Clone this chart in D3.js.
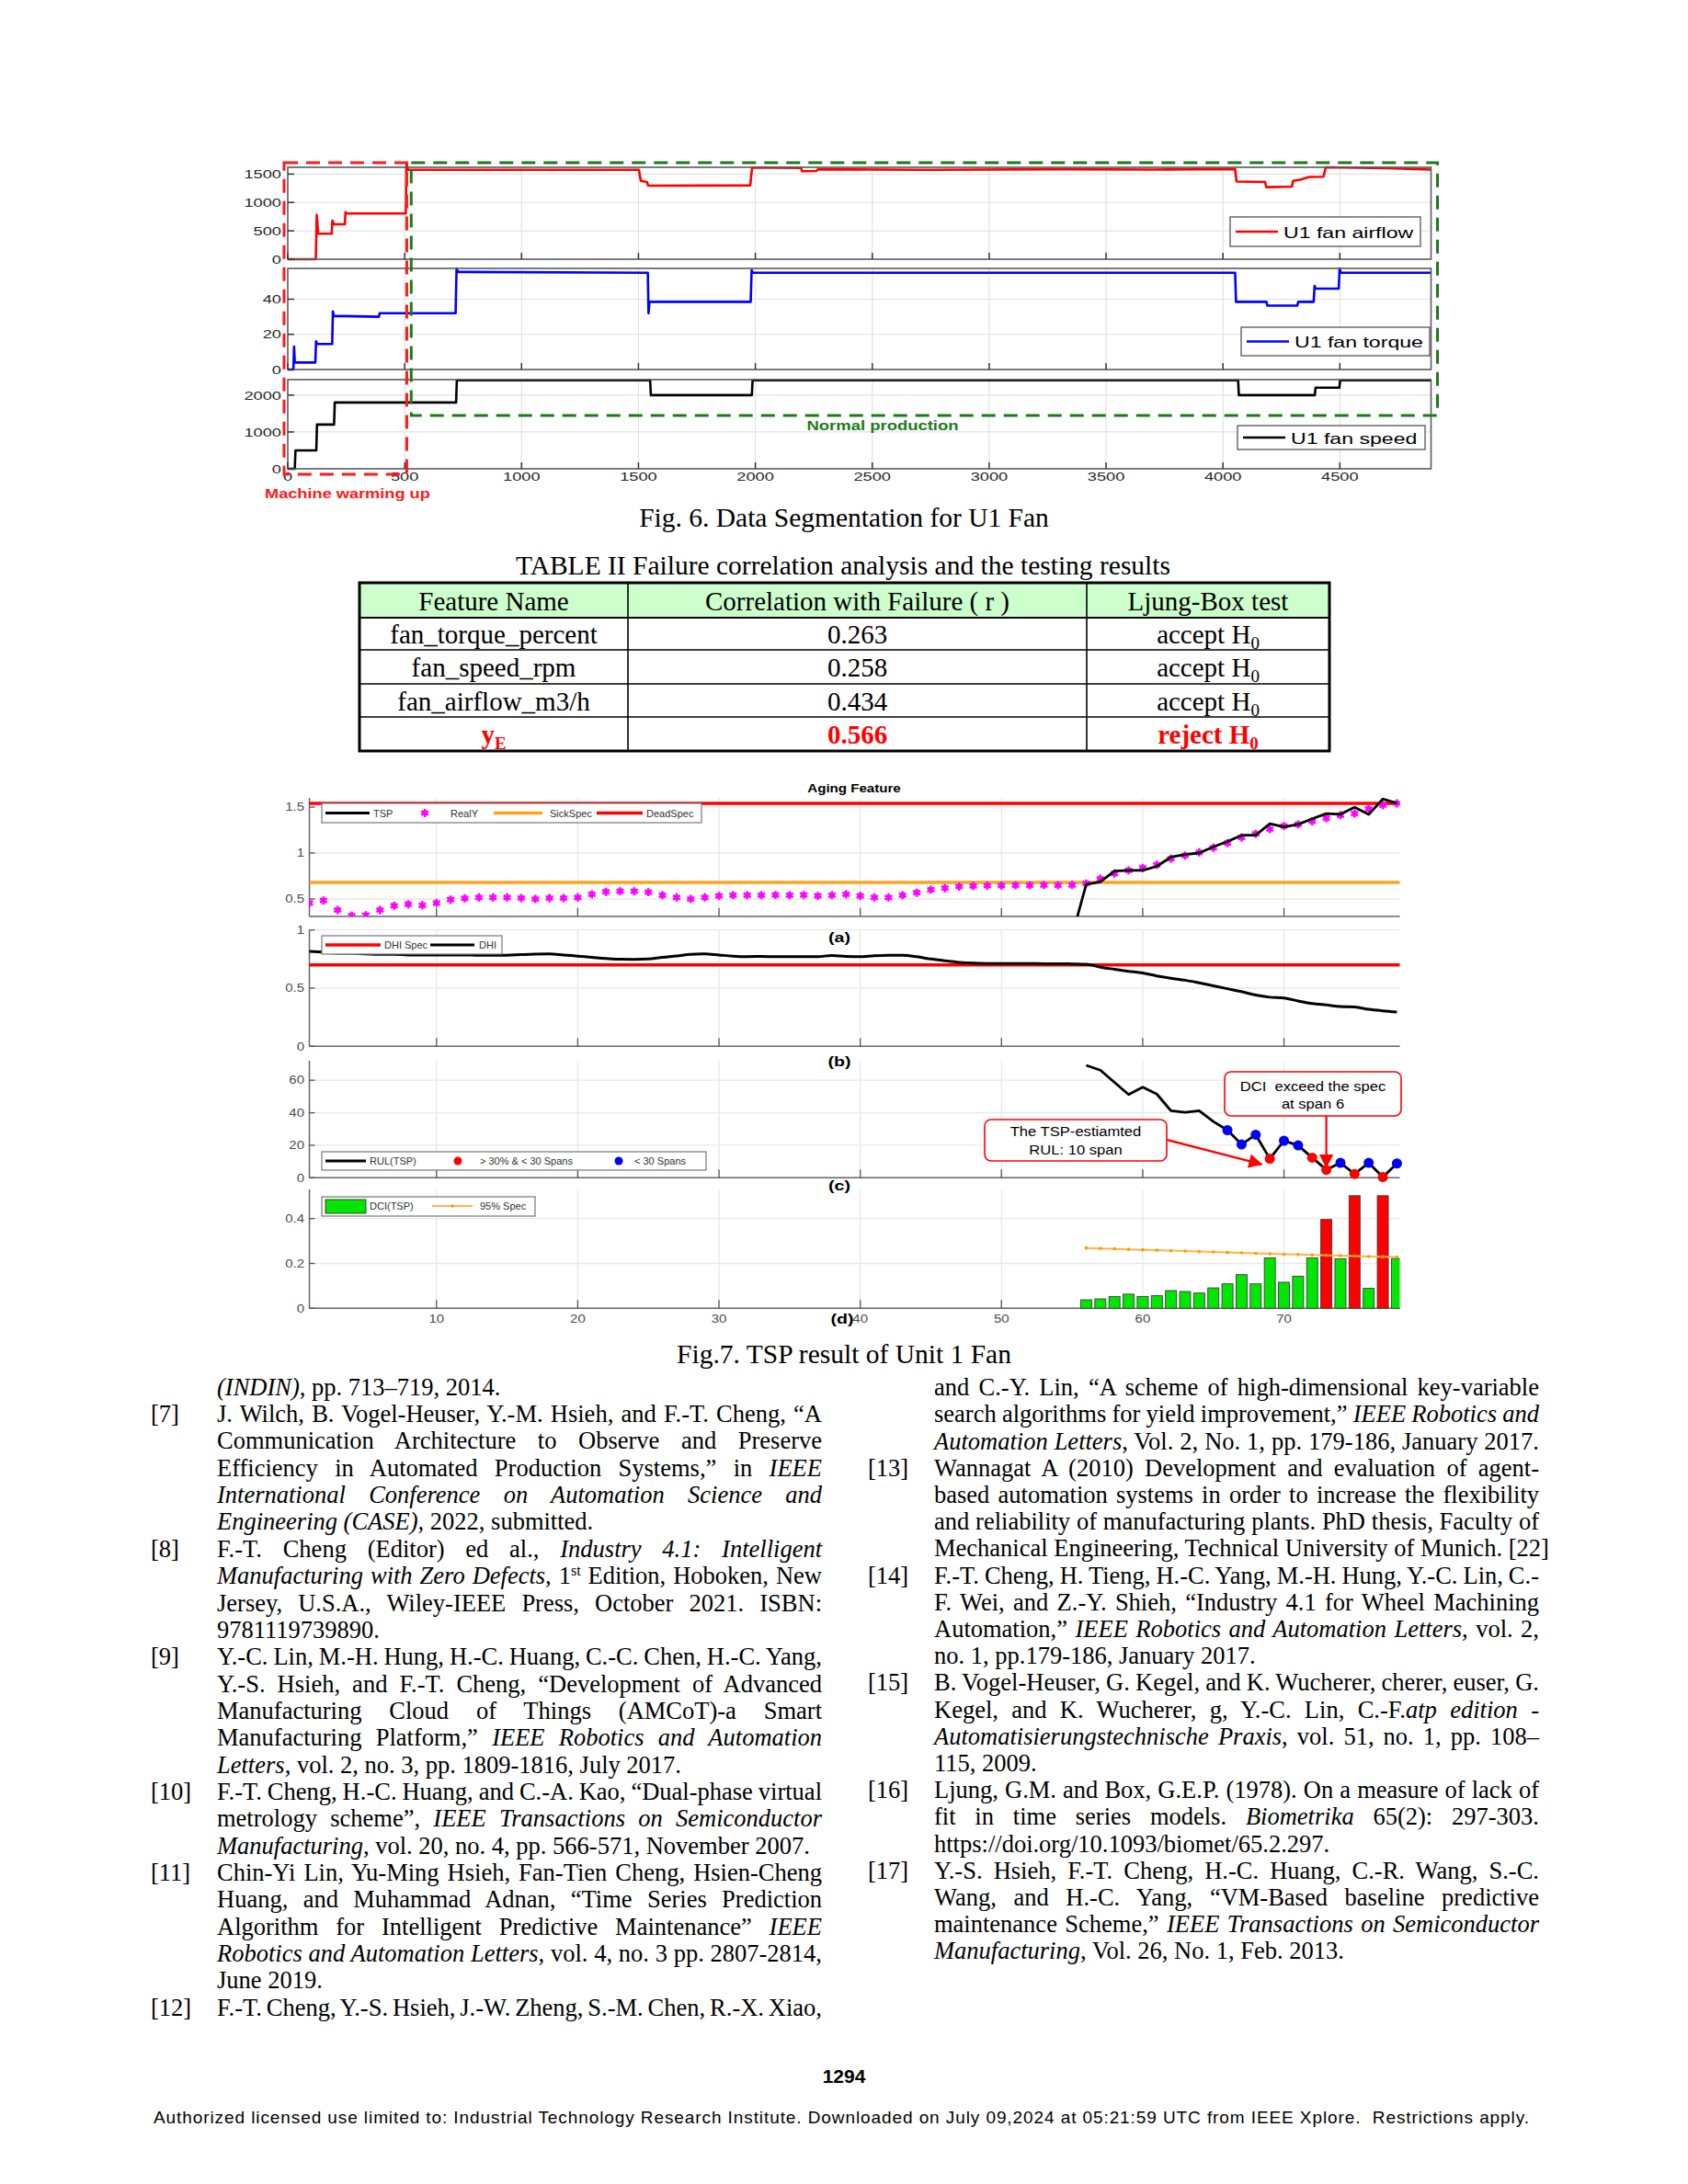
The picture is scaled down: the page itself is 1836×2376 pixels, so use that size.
<!DOCTYPE html>
<html><head><meta charset="utf-8">
<script src="https://cdn.jsdelivr.net/npm/d3@7"></script>
<style>
body{margin:0;background:#fff;width:1836px;height:2376px;position:relative;overflow:hidden}
#svg{position:absolute;left:0;top:0}
.ln{position:absolute;font-family:"Liberation Serif","Times New Roman",serif;font-size:26.5px;line-height:29.3px;white-space:nowrap;color:#000}
.ln sup{font-size:16px;line-height:0;vertical-align:9px}
</style></head><body>
<svg id="svg" width="1836" height="2376"></svg>
<script>
// ================= DATA =================
// Fig. 6 (step-like sensor series, breakpoints)
const fig6XTicks=[0,500,1000,1500,2000,2500,3000,3500,4000,4500];
const airflowTicks=[0,500,1000,1500];
const torqueTicks=[0,20,40];
const speedTicks=[0,1000,2000];
const airflowX=[0,120,124,130,188,191,197,244,247,253,505,508,514,1502,1510,1536,1542,1978,1986,2195,2200,2262,2268,2700,3300,3700,4052,4058,4180,4186,4295,4300,4330,4370,4430,4440,4700,4890];
const airflowY=[0,0,780,450,450,680,615,615,830,805,805,1680,1575,1575,1380,1360,1295,1300,1615,1610,1550,1555,1585,1575,1585,1580,1590,1370,1360,1270,1280,1380,1400,1450,1455,1620,1605,1580];
const torqueX=[0,24,27,30,118,121,126,190,193,197,390,393,718,722,728,1540,1543,1547,1980,1984,1990,4052,4056,4186,4190,4318,4322,4388,4392,4396,4495,4499,4504,4890];
const torqueY=[0,0,13,4,4,16,14.5,14.5,33,30.5,30,32,32,57.5,55.5,55,32,38.5,38.5,56.5,55,55,38.5,38.5,36.3,36.3,38.5,38.5,47.5,46,46,57.5,55,55];
const speedX=[0,30,33,122,125,198,201,720,723,1550,1553,1985,1988,4065,4068,4393,4396,4498,4501,4890];
const speedY=[0,0,500,500,1200,1200,1800,1800,2400,2400,2000,2000,2400,2400,2000,2000,2200,2200,2400,2400];

// Table II
const tableHeaders=['Feature Name','Correlation with Failure ( r )','Ljung-Box test'];
const featureNames=['fan_torque_percent','fan_speed_rpm','fan_airflow_m3/h'];
const correlations=['0.263','0.258','0.434'];
const ljungResults=['accept','accept','accept'];
const yECorrelation='0.566';
const yEResult='reject';

// Fig. 7 (spans 1..78)
const fig7XTicks=[10,20,30,40,50,60,70];
const realY=[0.456,0.483,0.38,0.318,0.324,0.38,0.426,0.443,0.432,0.456,
 0.493,0.507,0.517,0.517,0.517,0.51,0.5,0.51,0.51,0.517,
 0.551,0.578,0.584,0.584,0.574,0.541,0.517,0.5,0.517,0.534,
 0.541,0.541,0.541,0.544,0.541,0.544,0.534,0.541,0.551,0.534,
 0.517,0.517,0.541,0.568,0.601,0.618,0.635,0.642,0.645,0.645,
 0.649,0.649,0.652,0.649,0.652,0.669,0.72,0.777,0.811,0.838,
 0.872,0.939,0.973,1.007,1.057,1.108,1.169,1.209,1.26,1.294,
 1.311,1.345,1.378,1.412,1.429,1.48,1.52,1.54];
const tspStart=55;
const tsp=[0.10,0.659,0.686,0.804,0.811,0.811,0.855,0.956,0.983,1.0,1.068,1.125,1.193,1.193,1.318,1.284,1.311,1.372,1.429,1.422,1.497,1.419,1.588,1.541];
const sickSpec=0.68, deadSpec=1.54, dhiSpec=0.7;
const dhi=[0.816,0.81,0.80,0.80,0.795,0.79,0.79,0.785,0.785,0.785,
 0.785,0.785,0.782,0.782,0.782,0.788,0.793,0.795,0.785,0.775,
 0.765,0.755,0.748,0.747,0.75,0.765,0.776,0.79,0.795,0.785,
 0.775,0.771,0.772,0.77,0.77,0.77,0.771,0.78,0.772,0.77,
 0.778,0.782,0.782,0.77,0.75,0.735,0.722,0.715,0.712,0.711,
 0.711,0.711,0.71,0.71,0.708,0.705,0.68,0.662,0.645,0.63,
 0.605,0.585,0.568,0.545,0.52,0.495,0.47,0.44,0.422,0.415,
 0.39,0.368,0.355,0.342,0.338,0.318,0.305,0.295];
const rulStart=56;
const rul=[69.2,66.2,58.7,51.2,55.7,51.5,41.2,40.2,41.2,34.6,29.3,20.5,26.5,11.7,22.8,19.9,12.4,4.9,9.2,2.3,9.2,0.4,8.8];
const rulClass=[null,null,null,null,null,null,null,null,null,null,'b','b','b','r','b','b','r','r','b','r','b','r','b'];
const dciStart=1;
const dci=[0,0,0,0,0,0,0,0,0,0,0,0,0,0,0,0,0,0,0,0,0,0,0,0,0,0,0,0,0,0,
 0,0,0,0,0,0,0,0,0,0,0,0,0,0,0,0,0,0,0,0,0,0,0,0,0,
 0.038,0.042,0.052,0.063,0.053,0.056,0.079,0.075,0.068,0.091,0.109,0.150,0.109,0.225,0.116,0.143,0.225,0.396,0.221,0.502,0.089,0.502,0.222];
const specStart=56;
const spec95=[0.269,0.267,0.265,0.263,0.261,0.259,0.257,0.255,0.253,0.251,0.249,0.247,0.245,0.243,0.241,0.240,0.238,0.236,0.235,0.233,0.231,0.230,0.229];
const y7aTicks=[0.5,1,1.5], y7bTicks=[0,0.5,1], y7cTicks=[0,20,40,60], y7dTicks=[0,0.2,0.4];

// ================= HELPERS =================
const SANS='"Liberation Sans", Arial, Helvetica, sans-serif';
const SERIF='"Liberation Serif","Times New Roman",serif';
const svg=d3.select('#svg');
const defs=svg.append('defs');
let clipN=0;
function clip(x,y,w,h){const id='c'+(clipN++);defs.append('clipPath').attr('id',id).append('rect').attr('x',x).attr('y',y).attr('width',w).attr('height',h);return 'url(#'+id+')';}
function stext(g,x,y,str,o={}){
  const t=g.append('text').attr('transform',`translate(${x},${y}) scale(${o.sx||1},1)`)
   .attr('text-anchor',o.anchor||'start').attr('dy',o.dy==null?'0.35em':o.dy)
   .style('font-family',o.family||SANS).style('font-size',(o.size||12)+'px')
   .style('font-weight',o.weight||'normal').attr('fill',o.fill||'#000').text(str);
  if(o.pre) t.style('white-space','pre');
  return t;
}

// ================= FIG. 6 =================
const x6=d3.scaleLinear().domain([0,4890]).range([313,1556.5]);
const fig6Panels=[
 {xs:airflowX,ys:airflowY,color:'#ff0000',y:d3.scaleLinear().domain([0,1620]).range([282,182]),ticks:airflowTicks,name:'U1 fan airflow',leg:[1338,236,207,32]},
 {xs:torqueX,ys:torqueY,color:'#0000ff',y:d3.scaleLinear().domain([0,57.5]).range([402,292]),ticks:torqueTicks,name:'U1 fan torque',leg:[1350,356,205,31]},
 {xs:speedX,ys:speedY,color:'#000000',y:d3.scaleLinear().domain([0,2420]).range([510,413]),ticks:speedTicks,name:'U1 fan speed',leg:[1346,463,204,26]}
];
const g6=svg.append('g');
fig6Panels.forEach((p,i)=>{
  const [yb,yt]=p.y.range(); const [xl,xr]=x6.range();
  const g=g6.append('g');
  g.selectAll(null).data(fig6XTicks.slice(1)).join('line').attr('x1',d=>x6(d)).attr('x2',d=>x6(d)).attr('y1',yt).attr('y2',yb).attr('stroke','#e2e2e2').attr('stroke-width',1.2);
  g.selectAll(null).data(p.ticks.slice(1)).join('line').attr('x1',xl).attr('x2',xr).attr('y1',d=>p.y(d)).attr('y2',d=>p.y(d)).attr('stroke','#e2e2e2').attr('stroke-width',1.2);
  const pts=p.xs.map((v,k)=>[v,p.ys[k]]);
  g.append('path').datum(pts).attr('clip-path',clip(xl,yt-4,xr-xl,yb-yt+6))
   .attr('d',d3.line().x(d=>x6(d[0])).y(d=>p.y(d[1]))).attr('fill','none').attr('stroke',p.color).attr('stroke-width',2.6).attr('stroke-linejoin','round');
  g.append('rect').attr('x',xl).attr('y',yt).attr('width',xr-xl).attr('height',yb-yt).attr('fill','none').attr('stroke','#5a5a5a').attr('stroke-width',1.6);
  g.selectAll(null).data(p.ticks).join('line').attr('x1',xl).attr('x2',xl+7).attr('y1',d=>p.y(d)).attr('y2',d=>p.y(d)).attr('stroke','#333').attr('stroke-width',1.5);
  g.selectAll(null).data(fig6XTicks).join('line').attr('x1',d=>x6(d)).attr('x2',d=>x6(d)).attr('y1',yb).attr('y2',yb-7).attr('stroke','#333').attr('stroke-width',1.5);
  p.ticks.forEach(t=>stext(g,306,p.y(t),String(t),{anchor:'end',size:13.5,sx:1.35,fill:'#262626'}));
  // legend
  const [lx,ly,lw,lh]=p.leg;
  g.append('rect').attr('x',lx).attr('y',ly).attr('width',lw).attr('height',lh).attr('fill','#fff').attr('stroke','#555').attr('stroke-width',1.3);
  g.append('line').attr('x1',lx+6).attr('x2',lx+52).attr('y1',ly+lh/2).attr('y2',ly+lh/2).attr('stroke',p.color).attr('stroke-width',2.6);
  stext(g,lx+58,ly+lh/2+1,p.name,{size:16.5,sx:1.4,fill:'#000'});
});
fig6XTicks.forEach(t=>stext(g6,x6(t),518,String(t),{anchor:'middle',size:13.5,sx:1.35,fill:'#262626'}));
// segmentation boxes
g6.append('rect').attr('x',x6(0)-4).attr('y',177).attr('width',x6(509)-x6(0)+4).attr('height',339).attr('fill','none').attr('stroke','#ff1a1a').attr('stroke-width',3).attr('stroke-dasharray','15 9');
g6.append('rect').attr('x',x6(528)).attr('y',177).attr('width',x6.range()[1]+7-x6(528)).attr('height',275).attr('fill','none').attr('stroke','#1c7a1c').attr('stroke-width',3).attr('stroke-dasharray','15 9');
stext(g6,288,537,'Machine warming up',{size:14,sx:1.3,weight:'bold',fill:'#ff1a1a'});
stext(g6,960,463,'Normal production',{size:14,sx:1.32,weight:'bold',fill:'#1c7a1c',anchor:'middle'});
svg.append('text').attr('x',918).attr('y',573).attr('text-anchor','middle').style('font-family',SERIF).style('font-size','29.5px').text('Fig. 6. Data Segmentation for U1 Fan');

// ================= TABLE II =================
svg.append('text').attr('x',917).attr('y',625).attr('text-anchor','middle').style('font-family',SERIF).style('font-size','29.5px').text('TABLE II Failure correlation analysis and the testing results');
const colE=[391,683,1182,1446], rowE=[634,672,707,744,780,817];
const gt=svg.append('g').style('font-family',SERIF).style('font-size','29px');
gt.append('rect').attr('x',colE[0]).attr('y',rowE[0]).attr('width',colE[3]-colE[0]).attr('height',rowE[1]-rowE[0]).attr('fill','#ccffcc');
rowE.slice(1,-1).forEach(r=>gt.append('line').attr('x1',colE[0]).attr('x2',colE[3]).attr('y1',r).attr('y2',r).attr('stroke','#000').attr('stroke-width',r===rowE[1]?2.2:1.6));
colE.slice(1,-1).forEach(c=>gt.append('line').attr('x1',c).attr('x2',c).attr('y1',rowE[0]).attr('y2',rowE[5]).attr('stroke','#000').attr('stroke-width',1.6));
gt.append('rect').attr('x',colE[0]).attr('y',rowE[0]).attr('width',colE[3]-colE[0]).attr('height',rowE[5]-rowE[0]).attr('fill','none').attr('stroke','#000').attr('stroke-width',3);
const colC=[0,1,2].map(i=>(colE[i]+colE[i+1])/2);
const rowB=[0,1,2,3,4].map(i=>(rowE[i]+rowE[i+1])/2+10.5);
tableHeaders.forEach((h,i)=>gt.append('text').attr('x',colC[i]).attr('y',rowB[0]).attr('text-anchor','middle').style('white-space','pre').text(h));
featureNames.forEach((f,r)=>{
  gt.append('text').attr('x',colC[0]).attr('y',rowB[r+1]).attr('text-anchor','middle').text(f);
  gt.append('text').attr('x',colC[1]).attr('y',rowB[r+1]).attr('text-anchor','middle').text(correlations[r]);
  const t=gt.append('text').attr('x',colC[2]).attr('y',rowB[r+1]).attr('text-anchor','middle').text(ljungResults[r]+' H');
  t.append('tspan').attr('dy',6).style('font-size','19px').text('0');
});
{
  const r=4;
  const t1=gt.append('text').attr('x',colC[0]).attr('y',rowB[r]).attr('text-anchor','middle').attr('fill','#ff0000').style('font-weight','bold').text('y');
  t1.append('tspan').attr('dy',6).style('font-size','19px').text('E');
  gt.append('text').attr('x',colC[1]).attr('y',rowB[r]).attr('text-anchor','middle').attr('fill','#ff0000').style('font-weight','bold').text(yECorrelation);
  const t2=gt.append('text').attr('x',colC[2]).attr('y',rowB[r]).attr('text-anchor','middle').attr('fill','#ff0000').style('font-weight','bold').text(yEResult+' H');
  t2.append('tspan').attr('dy',6).style('font-size','19px').text('0');
}

// ================= FIG. 7 =================
const x7=d3.scaleLinear().domain([1,78.2]).range([336.5,1522.5]);
const [X0,X1]=x7.range();
const ya=d3.scaleLinear().domain([0.31,1.6]).range([997,868]);
const yb=d3.scaleLinear().domain([0,1]).range([1138.3,1011.7]);
const yc=d3.scaleLinear().domain([0,72]).range([1281.3,1154]);
const yd=d3.scaleLinear().domain([0,0.53]).range([1423.3,1294]);
const fmt=d3.format('~g');
function panel7(y,ticks){
  const g=svg.append('g');
  const [b,t]=y.range();
  g.selectAll(null).data(fig7XTicks).join('line').attr('x1',d=>x7(d)).attr('x2',d=>x7(d)).attr('y1',t).attr('y2',b).attr('stroke','#e8e8e8').attr('stroke-width',1.3);
  g.selectAll(null).data(ticks).join('line').attr('x1',X0).attr('x2',X1).attr('y1',d=>y(d)).attr('y2',d=>y(d)).attr('stroke','#e8e8e8').attr('stroke-width',1.3);
  g.append('line').attr('x1',X0).attr('x2',X0).attr('y1',t).attr('y2',b).attr('stroke','#666').attr('stroke-width',1.5);
  g.append('line').attr('x1',X0).attr('x2',X1).attr('y1',b).attr('y2',b).attr('stroke','#666').attr('stroke-width',1.5);
  g.selectAll(null).data(ticks).join('line').attr('x1',X0).attr('x2',X0+6).attr('y1',d=>y(d)).attr('y2',d=>y(d)).attr('stroke','#555').attr('stroke-width',1.3);
  g.selectAll(null).data(fig7XTicks).join('line').attr('x1',d=>x7(d)).attr('x2',d=>x7(d)).attr('y1',b).attr('y2',b-9).attr('stroke','#555').attr('stroke-width',1.3);
  ticks.forEach(v=>stext(g,331,y(v),fmt(v),{anchor:'end',size:12,sx:1.25,fill:'#4d4d4d'}));
  return g;
}
function legBox(g,x,y,w,h){g.append('rect').attr('x',x).attr('y',y).attr('width',w).attr('height',h).attr('fill','#fff').attr('stroke','#777').attr('stroke-width',1.2);}
const LS={size:10.5,sx:1.05,fill:'#333'};

// ---- panel (a)
const ga=panel7(ya,y7aTicks);
stext(svg,929,858,'Aging Feature',{anchor:'middle',size:12,sx:1.26,weight:'bold'});
const cpa=clip(X0,868,X1-X0,129);
ga.append('line').attr('x1',X0).attr('x2',X1).attr('y1',ya(sickSpec)).attr('y2',ya(sickSpec)).attr('stroke','#ffa31a').attr('stroke-width',3.5);
ga.append('line').attr('x1',X0).attr('x2',X1).attr('y1',ya(deadSpec)).attr('y2',ya(deadSpec)).attr('stroke','#ff0000').attr('stroke-width',3.5);
const ast=d3.symbol().type(d3.symbolAsterisk||d3.symbolCross).size(55);
ga.append('g').attr('clip-path',cpa).selectAll(null).data(realY).join('path').attr('d',ast)
  .attr('transform',(d,i)=>`translate(${x7(i+1)},${ya(d)})`).attr('fill','#ff00ff').attr('stroke','#ff00ff').attr('stroke-width',2.6);
ga.append('path').datum(tsp).attr('clip-path',cpa).attr('d',d3.line().x((d,i)=>x7(i+tspStart)).y(d=>ya(d)))
  .attr('fill','none').attr('stroke','#000').attr('stroke-width',2.8).attr('stroke-linejoin','round');
legBox(ga,350,874,413,21);
ga.append('line').attr('x1',354).attr('x2',402).attr('y1',884.5).attr('y2',884.5).attr('stroke','#000').attr('stroke-width',2.8);
stext(ga,406,885,'TSP',LS);
ga.append('path').attr('d',ast).attr('transform','translate(462,884.5)').attr('fill','#ff00ff').attr('stroke','#ff00ff').attr('stroke-width',2.6);
stext(ga,490,885,'RealY',LS);
ga.append('line').attr('x1',537).attr('x2',590).attr('y1',884.5).attr('y2',884.5).attr('stroke','#ffa31a').attr('stroke-width',3.5);
stext(ga,598,885,'SickSpec',LS);
ga.append('line').attr('x1',649).attr('x2',699).attr('y1',884.5).attr('y2',884.5).attr('stroke','#ff0000').attr('stroke-width',3.5);
stext(ga,703,885,'DeadSpec',LS);

// ---- panel (b)
const gb=panel7(yb,y7bTicks);
stext(svg,913,1020,'(a)',{anchor:'middle',size:14,sx:1.4,weight:'bold'});
gb.append('line').attr('x1',X0).attr('x2',X1).attr('y1',yb(dhiSpec)).attr('y2',yb(dhiSpec)).attr('stroke','#ff0000').attr('stroke-width',3.5);
gb.append('path').datum(dhi).attr('d',d3.line().x((d,i)=>x7(i+1)).y(d=>yb(d)).curve(d3.curveMonotoneX))
  .attr('fill','none').attr('stroke','#000').attr('stroke-width',3).attr('stroke-linejoin','round');
legBox(gb,350,1018,196,20);
gb.append('line').attr('x1',354).attr('x2',414).attr('y1',1028).attr('y2',1028).attr('stroke','#ff0000').attr('stroke-width',3.5);
stext(gb,418,1028.5,'DHI Spec',LS);
gb.append('line').attr('x1',468).attr('x2',516).attr('y1',1028).attr('y2',1028).attr('stroke','#000').attr('stroke-width',3);
stext(gb,521,1028.5,'DHI',LS);

// ---- panel (c)
const gc=panel7(yc,y7cTicks);
stext(svg,913,1155,'(b)',{anchor:'middle',size:14,sx:1.4,weight:'bold'});
gc.append('path').datum(rul).attr('d',d3.line().x((d,i)=>x7(i+rulStart)).y(d=>yc(d)))
  .attr('fill','none').attr('stroke','#000').attr('stroke-width',2.8).attr('stroke-linejoin','round');
gc.selectAll(null).data(rul.map((v,i)=>({x:i+rulStart,v,c:rulClass[i]})).filter(d=>d.c)).join('circle')
  .attr('cx',d=>x7(d.x)).attr('cy',d=>yc(d.v)).attr('r',5.5).attr('fill',d=>d.c==='r'?'#ff0000':'#0000ff');
legBox(gc,350,1253,418,20);
gc.append('line').attr('x1',354).attr('x2',398).attr('y1',1263).attr('y2',1263).attr('stroke','#000').attr('stroke-width',2.8);
stext(gc,402,1263.5,'RUL(TSP)',LS);
gc.append('circle').attr('cx',498).attr('cy',1263).attr('r',4.5).attr('fill','#ff0000');
stext(gc,522,1263.5,'> 30% & < 30 Spans',LS);
gc.append('circle').attr('cx',673).attr('cy',1263).attr('r',4.5).attr('fill','#0000ff');
stext(gc,690,1263.5,'< 30 Spans',LS);
// annotations
defs.append('marker').attr('id','arr').attr('viewBox','0 0 10 10').attr('refX',9).attr('refY',5).attr('markerWidth',7).attr('markerHeight',7).attr('orient','auto-start-reverse')
  .append('path').attr('d','M0,0L10,5L0,10z').attr('fill','#ff0000');
const gan=svg.append('g');
gan.append('line').attr('x1',1269).attr('y1',1240).attr('x2',x7(69)-9).attr('y2',yc(rul[69-rulStart])+6).attr('stroke','#ff0000').attr('stroke-width',2.2).attr('marker-end','url(#arr)');
gan.append('line').attr('x1',x7(73)).attr('y1',1214).attr('x2',x7(73)).attr('y2',yc(rul[73-rulStart])-3).attr('stroke','#ff0000').attr('stroke-width',2.2).attr('marker-end','url(#arr)');
gan.append('rect').attr('x',1071).attr('y',1218).attr('width',198).attr('height',45).attr('rx',7).attr('fill','#fff').attr('stroke','#ff0000').attr('stroke-width',1.6);
stext(gan,1170,1231,'The TSP-estiamted',{anchor:'middle',size:15.5,sx:1.07});
stext(gan,1170,1251,'RUL: 10 span',{anchor:'middle',size:15.5,sx:1.07});
gan.append('rect').attr('x',1332).attr('y',1166).attr('width',192).attr('height',48).attr('rx',7).attr('fill','#fff').attr('stroke','#ff0000').attr('stroke-width',1.6);
stext(gan,1428,1182,'DCI  exceed the spec',{anchor:'middle',size:15.5,sx:1.07,pre:true});
stext(gan,1428,1201,'at span 6',{anchor:'middle',size:15.5,sx:1.07});

// ---- panel (d)
const gd=panel7(yd,y7dTicks);
stext(svg,913,1290,'(c)',{anchor:'middle',size:14,sx:1.4,weight:'bold'});
const specAt=x=>spec95[x-specStart];
const cpd=clip(X0,1290,X1-X0,140);
gd.append('g').attr('clip-path',cpd).selectAll(null).data(dci.map((v,i)=>({x:i+dciStart,v}))).join('rect')
  .attr('x',d=>x7(d.x)-6).attr('width',12).attr('y',d=>yd(d.v)).attr('height',d=>yd(0)-yd(d.v))
  .attr('fill',d=>(specAt(d.x)!=null&&d.v>specAt(d.x))?'#ff0000':'#00e600').attr('stroke','#3a3a3a').attr('stroke-width',0.9);
gd.append('path').datum(spec95).attr('d',d3.line().x((d,i)=>x7(i+specStart)).y(d=>yd(d)))
  .attr('fill','none').attr('stroke','#ffb347').attr('stroke-width',2);
gd.selectAll(null).data(spec95).join('circle').attr('cx',(d,i)=>x7(i+specStart)).attr('cy',d=>yd(d)).attr('r',1.8).attr('fill','#ff9900');
legBox(gd,350,1302,232,21);
gd.append('rect').attr('x',354).attr('y',1305).attr('width',44).attr('height',15).attr('fill','#00e600').attr('stroke','#333').attr('stroke-width',0.9);
stext(gd,402,1312.5,'DCI(TSP)',LS);
gd.append('line').attr('x1',470).attr('x2',514).attr('y1',1312).attr('y2',1312).attr('stroke','#ffb347').attr('stroke-width',2);
gd.append('circle').attr('cx',492).attr('cy',1312).attr('r',1.8).attr('fill','#ff9900');
stext(gd,522,1312.5,'95% Spec',LS);
fig7XTicks.forEach(t=>stext(svg,x7(t),1435,String(t),{anchor:'middle',size:12,sx:1.25,fill:'#4d4d4d'}));
stext(svg,916,1435,'(d)',{anchor:'middle',size:14,sx:1.4,weight:'bold'});
svg.append('text').attr('x',918).attr('y',1483).attr('text-anchor','middle').style('font-family',SERIF).style('font-size','29.5px').text('Fig.7. TSP result of Unit 1 Fan');

// ================= FOOTER =================
svg.append('text').attr('x',918).attr('y',2266).attr('text-anchor','middle').style('font-family',SANS).style('font-size','21px').style('font-weight','bold').text('1294');
svg.append('text').attr('x',167).attr('y',2310).attr('textLength',1496).attr('lengthAdjust','spacing').style('font-family',SANS).style('font-size','19px').style('white-space','pre')
  .text('Authorized licensed use limited to: Industrial Technology Research Institute. Downloaded on July 09,2024 at 05:21:59 UTC from IEEE Xplore.  Restrictions apply.');

// ================= REFERENCES TEXT =================
const refsLeft=[
 [null,'<i>(INDIN)</i>, pp. 713–719, 2014.',0],
 ['[7]','J. Wilch, B. Vogel-Heuser, Y.-M. Hsieh, and F.-T. Cheng, “A',1],
 [null,'Communication Architecture to Observe and Preserve',1],
 [null,'Efficiency in Automated Production Systems,” in <i>IEEE</i>',1],
 [null,'<i>International Conference on Automation Science and</i>',1],
 [null,'<i>Engineering (CASE)</i>, 2022, submitted.',0],
 ['[8]','F.-T. Cheng (Editor) ed al., <i>Industry 4.1: Intelligent</i>',1],
 [null,'<i>Manufacturing with Zero Defects</i>, 1<sup>st</sup> Edition, Hoboken, New',1],
 [null,'Jersey, U.S.A., Wiley-IEEE Press, October 2021. ISBN:',1],
 [null,'9781119739890.',0],
 ['[9]','Y.-C. Lin, M.-H. Hung, H.-C. Huang, C.-C. Chen, H.-C. Yang,',1],
 [null,'Y.-S. Hsieh, and F.-T. Cheng, “Development of Advanced',1],
 [null,'Manufacturing Cloud of Things (AMCoT)-a Smart',1],
 [null,'Manufacturing Platform,” <i>IEEE Robotics and Automation</i>',1],
 [null,'<i>Letters</i>, vol. 2, no. 3, pp. 1809-1816, July 2017.',0],
 ['[10]','F.-T. Cheng, H.-C. Huang, and C.-A. Kao, “Dual-phase virtual',1],
 [null,'metrology scheme”, <i>IEEE Transactions on Semiconductor</i>',1],
 [null,'<i>Manufacturing</i>, vol. 20, no. 4, pp. 566-571, November 2007.',0],
 ['[11]','Chin-Yi Lin, Yu-Ming Hsieh, Fan-Tien Cheng, Hsien-Cheng',1],
 [null,'Huang, and Muhammad Adnan, “Time Series Prediction',1],
 [null,'Algorithm for Intelligent Predictive Maintenance” <i>IEEE</i>',1],
 [null,'<i>Robotics and Automation Letters</i>, vol. 4, no. 3 pp. 2807-2814,',1],
 [null,'June 2019.',0],
 ['[12]','F.-T. Cheng, Y.-S. Hsieh, J.-W. Zheng, S.-M. Chen, R.-X. Xiao,',1]
];
const refsRight=[
 [null,'and C.-Y. Lin, “A scheme of high-dimensional key-variable',1],
 [null,'search algorithms for yield improvement,” <i>IEEE Robotics and</i>',1],
 [null,'<i>Automation Letters</i>, Vol. 2, No. 1, pp. 179-186, January 2017.',1],
 ['[13]','Wannagat A (2010) Development and evaluation of agent-',1],
 [null,'based automation systems in order to increase the flexibility',1],
 [null,'and reliability of manufacturing plants. PhD thesis, Faculty of',1],
 [null,'Mechanical Engineering, Technical University of Munich. [22]',0],
 ['[14]','F.-T. Cheng, H. Tieng, H.-C. Yang, M.-H. Hung, Y.-C. Lin, C.-',1],
 [null,'F. Wei, and Z.-Y. Shieh, “Industry 4.1 for Wheel Machining',1],
 [null,'Automation,” <i>IEEE Robotics and Automation Letters</i>, vol. 2,',1],
 [null,'no. 1, pp.179-186, January 2017.',0],
 ['[15]','B. Vogel-Heuser, G. Kegel, and K. Wucherer, cherer, euser, G.',1],
 [null,'Kegel, and K. Wucherer, g, Y.-C. Lin, C.-F.<i>atp edition -</i>',1],
 [null,'<i>Automatisierungstechnische Praxis</i>, vol. 51, no. 1, pp. 108–',1],
 [null,'115, 2009.',0],
 ['[16]','Ljung, G.M. and Box, G.E.P. (1978). On a measure of lack of',1],
 [null,'fit in time series models. <i>Biometrika</i> 65(2): 297-303.',1],
 [null,'https://doi.org/10.1093/biomet/65.2.297.',0],
 ['[17]','Y.-S. Hsieh, F.-T. Cheng, H.-C. Huang, C.-R. Wang, S.-C.',1],
 [null,'Wang, and H.-C. Yang, “VM-Based baseline predictive',1],
 [null,'maintenance Scheme,” <i>IEEE Transactions on Semiconductor</i>',1],
 [null,'<i>Manufacturing</i>, Vol. 26, No. 1, Feb. 2013.',0]
];
function column(lines,labelX,textX,width,firstCenter,step){
  lines.forEach((l,i)=>{
    const top=firstCenter-14.3+i*step;
    if(l[0]) d3.select('body').append('div').attr('class','ln').style('left',labelX+'px').style('top',top+'px').text(l[0]);
    const div=d3.select('body').append('div').attr('class','ln').style('left',textX+'px').style('top',top+'px');
    const span=div.append('span').html(l[1]);
    if(l[2]){
      const w=span.node().getBoundingClientRect().width;
      const n=(span.node().textContent.match(/ /g)||[]).length;
      if(n>0) div.style('word-spacing',((width-w)/n)+'px');
    }
  });
}
column(refsLeft,164,236,658,1509,29.35);
column(refsRight,944,1016,658,1509.5,29.2);
</script></body></html>
